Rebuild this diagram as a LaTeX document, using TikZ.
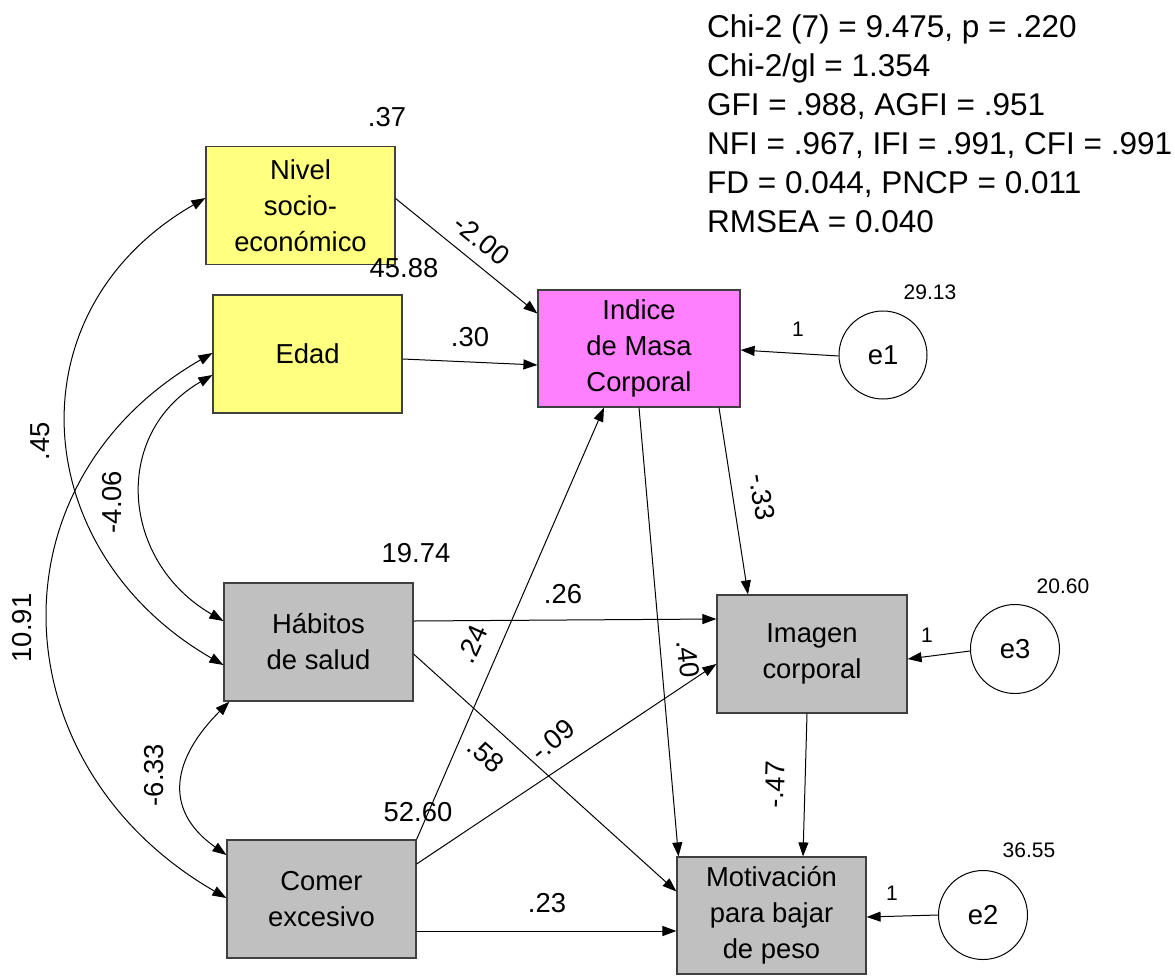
\documentclass[tikz,border=0pt]{standalone}
\usepackage{fontspec}
\setmainfont{Liberation Sans}
\usetikzlibrary{arrows.meta,calc}
\definecolor{yel}{HTML}{FFFF80}
\definecolor{mag}{HTML}{FF80FF}
\definecolor{gry}{HTML}{C0C0C0}
\begin{document}
\begin{tikzpicture}[x=1pt,y=-1pt,
  box/.style={draw=black!75,line width=1.2pt,inner sep=0pt,align=center,
    font=\fontsize{27.4}{36}\selectfont,minimum width=189pt,minimum height=118pt},
  ybox/.style={box,fill=yel},
  mbox/.style={box,fill=mag},
  gbox/.style={box,fill=gry},
  err/.style={circle,draw=black,line width=1pt,fill=white,inner sep=0pt,minimum size=89pt,
    font=\fontsize{27.4}{30}\selectfont},
  lab/.style={inner sep=0pt,font=\fontsize{27.4}{30}\selectfont},
  small/.style={inner sep=0pt,font=\fontsize{21}{24}\selectfont},
  stat/.style={inner sep=0pt,anchor=base west,font=\fontsize{31.5}{39}\selectfont},
  path/.style={line width=1pt,-{Triangle[length=14pt,width=10pt]}},
  cov/.style={line width=1pt,{Triangle[length=14pt,width=10pt]}-{Triangle[length=14pt,width=10pt]}}
]
\useasboundingbox (0,0) rectangle (1175,975);
\fill[white] (0,0) rectangle (1175,975);

% boxes
\node[ybox] (nivel) at (300.5,205.5) {Nivel\\socio-\\económico};
\node[ybox] (edad) at (307.5,354) {Edad};
\node[mbox,minimum width=202pt,minimum height=117pt] (imc) at (639,348.5) {Indice\\de Masa\\Corporal};
\node[gbox] (hab) at (318.5,642) {Hábitos\\de salud};
\node[gbox] (comer) at (321.5,899) {Comer\\excesivo};
\node[gbox,minimum width=190pt] (imagen) at (812,654) {Imagen\\corporal};
\node[gbox,minimum height=117pt] (motiv) at (771.5,915.5) {Motivación\\para bajar\\de peso};

% error terms
\node[err,minimum size=88pt] (e1) at (883,355) {e1};
\node[err] (e3) at (1015,649) {e3};
\node[err] (e2) at (983,915) {e2};

% directed paths
\draw[path] ([yshift=7pt]nivel.east) -- ([yshift=35pt]imc.west);
\draw[path] ([yshift=-5pt]edad.east) -- ([yshift=-16.5pt]imc.west);
\draw[path] ([yshift=-1pt]e1.west) -- ([yshift=-1.5pt]imc.east);
\draw[path] ([xshift=80pt]imc.south) -- ([xshift=-64pt]imagen.north);
\draw[path] (imc.south) -- ([xshift=-93pt]motiv.north);
\draw[path] (comer.north east) -- ([xshift=-35pt]imc.south);
\draw[path] ([yshift=21pt]hab.east) -- ([yshift=35pt]imagen.west);
\draw[path] ([yshift=-12pt]hab.east) -- ([yshift=24pt]motiv.west);
\draw[path] ([yshift=35pt]comer.east) -- ([yshift=-10pt]imagen.west);
\draw[path] ([yshift=-32pt]comer.east) -- ([yshift=-15.5pt]motiv.west);
\draw[path] ([xshift=-5pt]imagen.south) -- ([xshift=31.5pt]motiv.north);
\draw[path] ([yshift=-2pt]e3.west) -- ([yshift=-5pt]imagen.east);
\draw[path] (e2.west) -- ([yshift=-1.5pt]motiv.east);

% covariances
\draw[cov] ([yshift=7.5pt]nivel.west) .. controls +(-196,113) and +(-196,-113) .. ([yshift=-23pt]hab.west);
\draw[cov] ([yshift=-21pt]edad.west) .. controls +(-102,59) and +(-102,-59) .. ([yshift=21pt]hab.west);
\draw[cov] ([yshift=1pt]edad.west) .. controls +(-227,131) and +(-227,-131) .. ([yshift=1pt]comer.west);
\draw[cov] ([xshift=6pt]hab.south west) .. controls +(-56,56) and +(-65,-46) .. ([yshift=44pt]comer.west);

% path labels
\node[lab,rotate=-39] (l1) at (482,240) {-2.00};
\node[lab] (l2) at (470,337) {.30};
\node[lab,rotate=-81] (l3) at (762,497) {-.33};
\node[lab,rotate=66] (l4) at (472,644) {.24};
\node[lab,rotate=-84] (l5) at (688,659) {.40};
\node[lab,rotate=-42] (l6) at (486,755) {.58};
\node[lab,rotate=40] (l7) at (553,740) {-.09};
\node[lab,rotate=88] (l8) at (775,785) {-.47};
\node[lab] (l9) at (563,594) {.26};
\node[lab] (l10) at (547,903) {.23};
\node[lab,rotate=90] (l11) at (40,441) {.45};
\node[lab,rotate=90] (l12) at (112,502) {-4.06};
\node[lab,rotate=90] (l13) at (22,628) {10.91};
\node[lab,rotate=90] (l14) at (154,775) {-6.33};

% variance labels
\node[lab] (v1) at (387,117) {.37};
\node[lab] (v2) at (404,268) {45.88};
\node[lab] (v3) at (416,553) {19.74};
\node[lab] (v4) at (418,812) {52.60};
\node[small] (v5) at (930,292) {29.13};
\node[small] (v6) at (1063,586) {20.60};
\node[small] (v7) at (1029,850) {36.55};
\node[small] (w1) at (798,329) {1};
\node[small] (w3) at (927,635) {1};
\node[small] (w2) at (892,893) {1};

% fit statistics
\node[stat] (s1) at (707,37) {Chi-2 (7) = 9.475, p = .220};
\node[stat] (s2) at (707,76) {Chi-2/gl = 1.354};
\node[stat] (s3) at (707,115) {GFI = .988, AGFI = .951};
\node[stat] (s4) at (707,154) {NFI = .967, IFI = .991, CFI = .991};
\node[stat] (s5) at (707,193) {FD = 0.044, PNCP = 0.011};
\node[stat] (s6) at (707,232) {RMSEA = 0.040};
\end{tikzpicture}
\end{document}
